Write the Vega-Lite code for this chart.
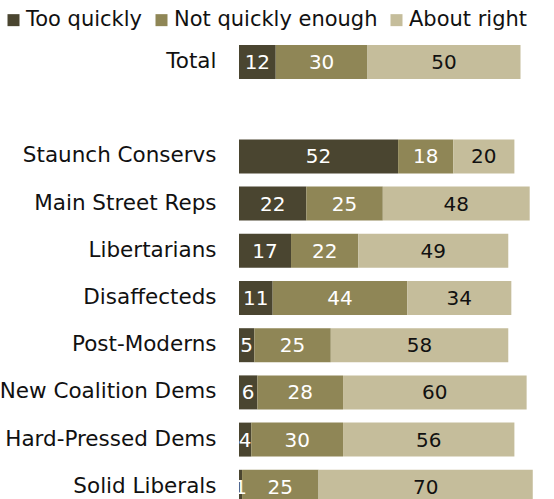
{
  "$schema": "https://vega.github.io/schema/vega-lite/v6.json",
  "autosize": "none",
  "width": 306,
  "height": {"step": 47.2},
  "padding": {"left": 239, "top": 38.4, "right": 0, "bottom": 0},
  "background": "white",
  "config": {
    "view": {"stroke": null},
    "font": "DejaVu Sans",
    "text": {"font": "DejaVu Sans"}
  },
  "data": {
    "values": [
      {"group": "Total", "answer": "Too quickly", "value": 12},
      {"group": "Total", "answer": "Not quickly enough", "value": 30},
      {"group": "Total", "answer": "About right", "value": 50},
      {"group": "Staunch Conservs", "answer": "Too quickly", "value": 52},
      {"group": "Staunch Conservs", "answer": "Not quickly enough", "value": 18},
      {"group": "Staunch Conservs", "answer": "About right", "value": 20},
      {"group": "Main Street Reps", "answer": "Too quickly", "value": 22},
      {"group": "Main Street Reps", "answer": "Not quickly enough", "value": 25},
      {"group": "Main Street Reps", "answer": "About right", "value": 48},
      {"group": "Libertarians", "answer": "Too quickly", "value": 17},
      {"group": "Libertarians", "answer": "Not quickly enough", "value": 22},
      {"group": "Libertarians", "answer": "About right", "value": 49},
      {"group": "Disaffecteds", "answer": "Too quickly", "value": 11},
      {"group": "Disaffecteds", "answer": "Not quickly enough", "value": 44},
      {"group": "Disaffecteds", "answer": "About right", "value": 34},
      {"group": "Post-Moderns", "answer": "Too quickly", "value": 5},
      {"group": "Post-Moderns", "answer": "Not quickly enough", "value": 25},
      {"group": "Post-Moderns", "answer": "About right", "value": 58},
      {"group": "New Coalition Dems", "answer": "Too quickly", "value": 6},
      {"group": "New Coalition Dems", "answer": "Not quickly enough", "value": 28},
      {"group": "New Coalition Dems", "answer": "About right", "value": 60},
      {"group": "Hard-Pressed Dems", "answer": "Too quickly", "value": 4},
      {"group": "Hard-Pressed Dems", "answer": "Not quickly enough", "value": 30},
      {"group": "Hard-Pressed Dems", "answer": "About right", "value": 56},
      {"group": "Solid Liberals", "answer": "Too quickly", "value": 1},
      {"group": "Solid Liberals", "answer": "Not quickly enough", "value": 25},
      {"group": "Solid Liberals", "answer": "About right", "value": 70}
    ]
  },
  "transform": [
    {"stack": "value", "groupby": ["group"], "sort": [{"field": "answer", "order": "descending"}], "as": ["x0", "x1"]},
    {"calculate": "(datum.x0 + datum.x1) / 2", "as": "xmid"}
  ],
  "encoding": {
    "y": {
      "field": "group",
      "type": "nominal",
      "scale": {
        "domain": ["Total", " ", "Staunch Conservs", "Main Street Reps", "Libertarians", "Disaffecteds", "Post-Moderns", "New Coalition Dems", "Hard-Pressed Dems", "Solid Liberals"],
        "paddingInner": 0.28,
        "paddingOuter": 0.14
      },
      "axis": {
        "title": null,
        "domain": false,
        "ticks": false,
        "labelPadding": 23,
        "labelFontSize": 21.5,
        "labelLimit": 0,
        "labelColor": "#111111",
        "labelFont": "DejaVu Sans"
      }
    }
  },
  "layer": [
    {
      "mark": {"type": "bar"},
      "encoding": {
        "x": {"field": "x0", "type": "quantitative", "scale": {"domain": [0, 100]}, "axis": null},
        "x2": {"field": "x1"},
        "color": {
          "field": "answer",
          "type": "nominal",
          "scale": {
            "domain": ["Too quickly", "Not quickly enough", "About right"],
            "range": ["#4a4530", "#8f8656", "#c5bd9b"]
          },
          "legend": {
            "title": null,
            "orient": "none",
            "direction": "horizontal",
            "legendX": -236,
            "legendY": -29,
            "symbolType": "square",
            "symbolSize": 144,
            "symbolStrokeWidth": 0,
            "symbolOpacity": 1,
            "labelFontSize": 21,
            "labelLimit": 0,
            "labelFont": "DejaVu Sans",
            "labelColor": "#111111",
            "labelOffset": 2,
            "columnPadding": 8
          }
        }
      }
    },
    {
      "mark": {"type": "text", "fontSize": 20, "font": "DejaVu Sans", "baseline": "middle", "align": "center", "dy": 1},
      "encoding": {
        "x": {"field": "xmid", "type": "quantitative"},
        "text": {"field": "value", "type": "quantitative"},
        "color": {
          "condition": {"test": "datum.answer === 'About right'", "value": "#111111"},
          "value": "white"
        }
      }
    }
  ]
}
